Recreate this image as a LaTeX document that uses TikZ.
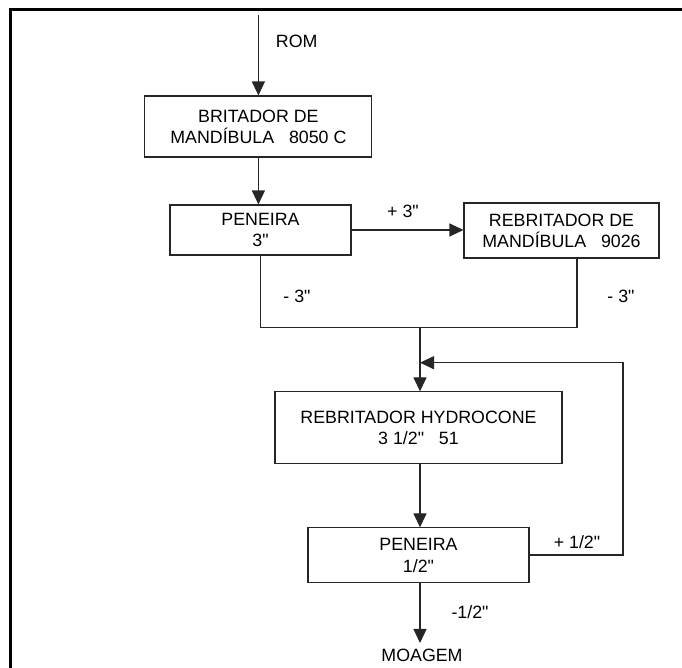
\documentclass[tikz,border=0pt]{standalone}
\usepackage{fontspec}
\setmainfont{Liberation Sans}[Ligatures=TeXOff]
\usetikzlibrary{arrows.meta}
\begin{document}
\begin{tikzpicture}[x=0.5pt,y=-0.5pt,
  font=\fontsize{8.9}{10.6}\selectfont,
  box/.style={draw=black!85,line width=0.55pt,inner sep=0pt,align=center},
  conn/.style={draw=black!85,line width=0.6pt},
  arr/.style={conn,-{Triangle[length=7pt,width=6.5pt]}},
  lbl/.style={inner sep=0pt}]
\useasboundingbox (0,0) rectangle (682,668);
\draw[line width=1.6pt,line join=miter] (10.3,680) -- (10.3,9.7) -- (700,9.7);
% boxes
\node[box,minimum width=113.5pt,minimum height=30.5pt] (b1) at (258.4,126.5) {BRITADOR DE\\MANDÍBULA\ \ \ 8050 C};
\node[box,minimum width=90.5pt,minimum height=25pt] (b2) at (260.5,230) {PENEIRA\\3"};
\node[box,minimum width=97.5pt,minimum height=27.5pt] (b3) at (561.5,230.5) {REBRITADOR DE\\MANDÍBULA\ \ \ 9026};
\node[box,minimum width=143.5pt,minimum height=35.6pt] (b4) at (418.5,427.5) {REBRITADOR HYDROCONE\\3 1/2"\ \ \ 51};
\node[box,minimum width=110.5pt,minimum height=27.5pt] (b5) at (418.5,555.4) {PENEIRA\\1/2"};
% labels
\node[lbl] (rom) at (296.7,41.7) {ROM};
\node[lbl] (moagem) at (422,655) {MOAGEM};
\node[lbl] (lp3) at (403,211) {+ 3"};
\node[lbl] (lm3a) at (297,296) {- 3"};
\node[lbl] (lm3b) at (621,296) {- 3"};
\node[lbl] (lp12) at (577,542) {+ 1/2"};
\node[lbl] (lm12) at (470,612) {-1/2"};
% coordinates
\coordinate (romtop) at (258.4,15);
\coordinate (j1) at (260.7,327.7);
\coordinate (j2) at (577,327.7);
\coordinate (jm) at (420,327.7);
\coordinate (fb) at (420,362.7);
\coordinate (fr) at (623,362.7);
\coordinate (mo) at (420,643);
% connectors
\draw[arr] (romtop) -- (b1.north);
\draw[arr] (b1.south) -- (b2.north -| b1.south);
\draw[arr] (b2.east |- 0,230) -- (b3.west |- 0,230);
\draw[conn] (b2.south -| j1) -- (j1) -- (j2) -- (b3.south -| j2);
\draw[arr] (jm) -- (b4.north -| jm);
\draw[conn] (b5.east |- 0,555) -- (fr |- 0,555) -- (fr) -- (fb);
\draw[arr] (fr) -- (fb);
\draw[arr] (b4.south -| jm) -- (b5.north -| jm);
\draw[arr] (b5.south -| jm) -- (mo);
\end{tikzpicture}
\end{document}
